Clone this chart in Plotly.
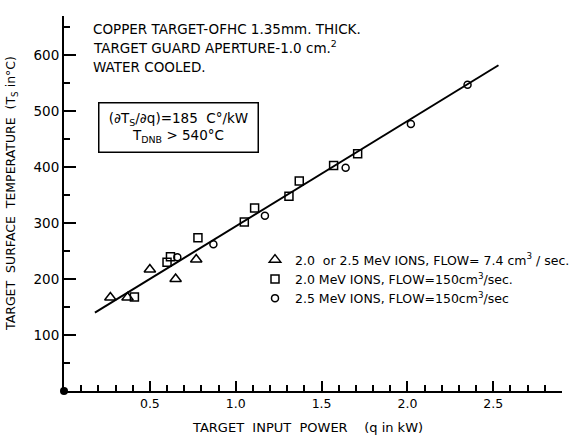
import plotly.graph_objects as go

# ---- data ----
tri_x = [0.27, 0.37, 0.50, 0.65, 0.77]
tri_y = [167, 167, 217, 200, 235]

sq_x = [0.41, 0.60, 0.62, 0.78, 1.05, 1.11, 1.31, 1.37, 1.57, 1.71]
sq_y = [168, 230, 240, 274, 302, 327, 348, 375, 403, 424]

circ_x = [0.66, 0.87, 1.17, 1.64, 2.02, 2.35]
circ_y = [239, 262, 313, 399, 477, 547]

fit_x = [0.18, 2.53]
fit_y = [140, 582]

origin_x = [0]
origin_y = [0]

x_tickvals = [0.5, 1.0, 1.5, 2.0, 2.5]
x_ticktext = ["0.5", "1.0", "1.5", "2.0", "2.5"]
y_tickvals = [100, 200, 300, 400, 500, 600]
y_ticktext = ["100", "200", "300", "400", "500", "600"]

FONT = "DejaVu Sans"
W, H = 578, 435
ML, MR, MT, MB = 64, 16, 16, 44
PW, PH = W - ML - MR, H - MT - MB


def px(x):
    return (x - ML) / PW


def py(y):
    return (H - MB - y) / PH


fig = go.Figure()

fig.add_trace(go.Scatter(x=fit_x, y=fit_y, mode="lines",
                         line=dict(color="black", width=2), showlegend=False,
                         hoverinfo="skip"))

mk_line = dict(color="black", width=1.5)
fig.add_trace(go.Scatter(x=tri_x, y=tri_y, mode="markers",
                         name="2.0  or 2.5 MeV IONS, FLOW= 7.4 cm<sup>3</sup> / sec.",
                         marker=dict(symbol="triangle-up-open", size=10, color="black", line=mk_line)))
fig.add_trace(go.Scatter(x=sq_x, y=sq_y, mode="markers",
                         name="2.0 MeV IONS, FLOW=150cm<sup>3</sup>/sec.",
                         marker=dict(symbol="square-open", size=8, color="black", line=mk_line)))
fig.add_trace(go.Scatter(x=circ_x, y=circ_y, mode="markers",
                         name="2.5 MeV IONS, FLOW=150cm<sup>3</sup>/sec",
                         marker=dict(symbol="circle-open", size=7, color="black", line=mk_line)))

fig.add_trace(go.Scatter(x=origin_x, y=origin_y, mode="markers", showlegend=False,
                         marker=dict(symbol="circle", size=8, color="black"),
                         cliponaxis=False, hoverinfo="skip"))

fig.update_xaxes(range=[0, 2.9], showline=True, linecolor="black", linewidth=2,
                 showgrid=False, zeroline=False, automargin=False,
                 tickmode="array", tickvals=x_tickvals, ticktext=x_ticktext,
                 ticks="inside", ticklen=10, tickwidth=1.5, tickcolor="black",
                 minor=dict(dtick=0.1, tick0=0, ticks="inside", ticklen=6,
                            tickwidth=1.5, tickcolor="black"),
                 tickfont=dict(family=FONT, size=12.5, color="black"))
fig.update_yaxes(range=[0, 670], showline=True, linecolor="black", linewidth=2,
                 showgrid=False, zeroline=False, automargin=False,
                 tickmode="array", tickvals=y_tickvals, ticktext=y_ticktext,
                 ticks="inside", ticklen=12, tickwidth=1.5, tickcolor="black",
                 minor=dict(dtick=50, tick0=0, ticks="inside", ticklen=6,
                            tickwidth=1.5, tickcolor="black"),
                 tickfont=dict(family=FONT, size=13.5, color="black"))

annots = []
# header text
for txt, yy in [("COPPER TARGET-OFHC 1.35mm. THICK.", 29),
                ("TARGET GUARD APERTURE-1.0 cm.<sup>2</sup>", 47),
                ("WATER COOLED.", 67)]:
    annots.append(dict(text=txt, xref="paper", yref="paper", x=px(91), y=py(yy),
                       xanchor="left", yanchor="middle", showarrow=False,
                       font=dict(family=FONT, size=13.5, color="black")))
# boxed note
annots.append(dict(text="(∂T<sub>S</sub>/∂q)=185  C°/kW<br>T<sub>DNB</sub> > 540°C",
                   xref="paper", yref="paper", x=px(178.5), y=py(127),
                   xanchor="center", yanchor="middle", showarrow=False,
                   align="center", width=152, height=42,
                   bordercolor="black", borderwidth=1.5, borderpad=3,
                   font=dict(family=FONT, size=13.5, color="black")))
# axis titles
annots.append(dict(text="TARGET  SURFACE  TEMPERATURE  (T<sub>S</sub> in°C)",
                   xref="paper", yref="paper", x=px(11), y=py(194),
                   xanchor="center", yanchor="middle", textangle=-90, showarrow=False,
                   font=dict(family=FONT, size=12.5, color="black")))
annots.append(dict(text="TARGET  INPUT  POWER    (q in kW)",
                   xref="paper", yref="paper", x=px(307), y=py(427),
                   xanchor="center", yanchor="middle", showarrow=False,
                   font=dict(family=FONT, size=13, color="black")))

fig.update_layout(
    width=W, height=H,
    margin=dict(l=ML, r=MR, t=MT, b=MB, autoexpand=False),
    plot_bgcolor="white", paper_bgcolor="white",
    annotations=annots,
    showlegend=True,
    legend=dict(x=px(255), y=py(245), xanchor="left", yanchor="top",
                font=dict(family=FONT, size=12.5, color="black"),
                bgcolor="rgba(0,0,0,0)", tracegroupgap=0, itemwidth=30),
)

fig.write_html("out.html", config={"displayModeBar": False},
               post_script="document.body.style.margin='0px';")
